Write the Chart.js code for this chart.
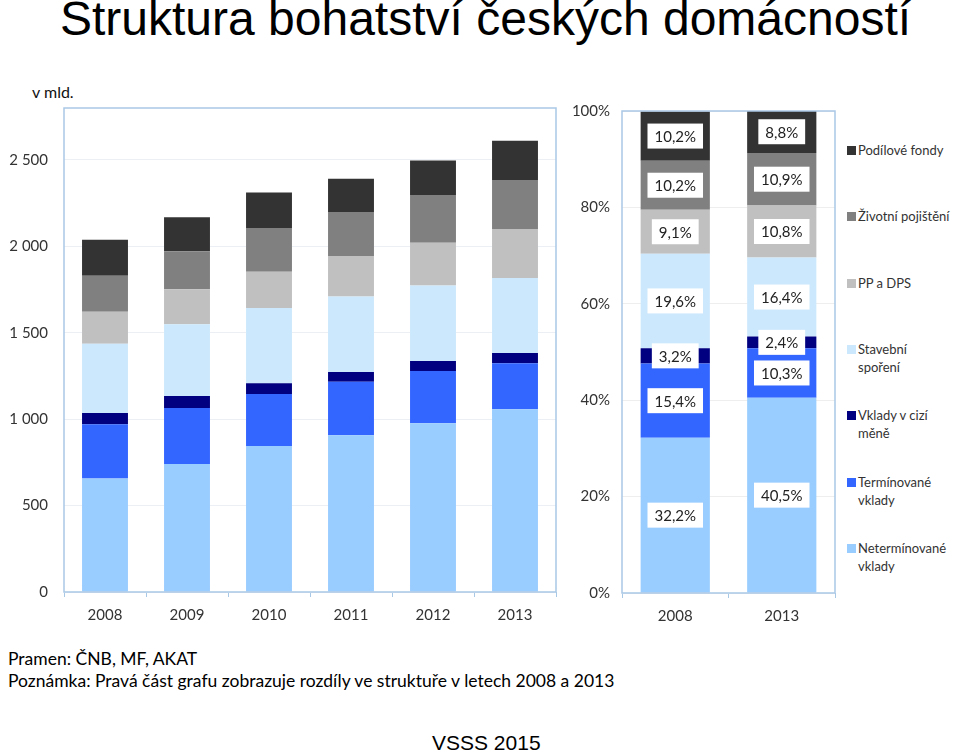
<!DOCTYPE html>
<html lang="cs">
<head>
<meta charset="UTF-8">
<title>Struktura bohatství českých domácností</title>
<script src="https://cdn.jsdelivr.net/npm/chart.js"></script>
<style>
  body { margin: 0; width: 959px; height: 752px; background: #fff; position: relative; overflow: hidden; }
  .abs { position: absolute; white-space: nowrap; }
  #titulek { left: 60px; top: -5px; font: 48px/48px "Liberation Sans", Arial, sans-serif; color: #000; }
  #jednotka { left: 32px; top: 82px; font: 16px/20px Lato, sans-serif; color: #111; }
  #pramen { left: 8px; top: 648px; font: 17.5px/22px Lato, sans-serif; color: #000; }
  #vsss { left: 432px; top: 732px; font: 21px/21px "Liberation Sans", Arial, sans-serif; color: #000; }
  #levy { left: 0; top: 80px; width: 560px; height: 550px; }
  #pravy { left: 560px; top: 90px; width: 280px; height: 540px; }
  .leg { position: absolute; left: 847px; font: 13px/18px Lato, sans-serif; color: #333; }
  .leg i { position: absolute; left: 0; top: 5px; width: 9px; height: 9px; }
  .leg span { display: block; margin-left: 11px; }
</style>
</head>
<body>
<div id="titulek" class="abs">Struktura bohatství českých domácností</div>
<div id="jednotka" class="abs">v mld.</div>
<div id="levy" class="abs"><canvas id="grafLevy"></canvas></div>
<div id="pravy" class="abs"><canvas id="grafPravy"></canvas></div>
<div id="legenda"></div>
<div id="pramen" class="abs">Pramen: ČNB, MF, AKAT<br>Poznámka: Pravá část grafu zobrazuje rozdíly ve struktuře v letech 2008 a 2013</div>
<div id="vsss" class="abs">VSSS 2015</div>

<script>
// roky a řady (zdola nahoru)
const roky = ['2008', '2009', '2010', '2011', '2012', '2013'];
const nazvy = ['Netermínované vklady', 'Termínované vklady', 'Vklady v cizí měně', 'Stavební spoření', 'PP a DPS', 'Životní pojištění', 'Podílové fondy'];
const legendaNazvy = ['Netermínované\nvklady', 'Termínované\nvklady', 'Vklady v cizí\nměně', 'Stavební\nspoření', 'PP a DPS', 'Životní pojištění', 'Podílové fondy'];
const barvy = ['#99ccff', '#3366ff', '#000080', '#cce8fc', '#c0c0c0', '#808080', '#333333'];

// v mld. Kč
const netermin = [657, 741, 845, 907, 976, 1057];
const termin = [314, 324, 301, 310, 303, 266];
const cizi = [65, 69, 62, 56, 58, 60];
const stavebni = [400, 415, 435, 436, 436, 434];
const ppDps = [186, 203, 209, 235, 247, 280];
const zivotni = [208, 219, 254, 255, 276, 287];
const podilove = [208, 197, 205, 191, 200, 226];

// struktura v % (pravá část)
const rokyStruktura = ['2008', '2013'];
const podil2008 = [32.2, 15.4, 3.2, 19.6, 9.1, 10.2, 10.2];
const podil2013 = [40.5, 10.3, 2.4, 16.4, 10.8, 10.9, 8.8];

const levaTicky = [0, 500, 1000, 1500, 2000, 2500];
const pravaTicky = [0, 20, 40, 60, 80, 100];

const hodnoty = [netermin, termin, cizi, stavebni, ppDps, zivotni, podilove];

// ramecek kolem plochy grafu
const ramecek = {
  id: 'ramecek',
  afterDraw(chart) {
    const a = chart.chartArea;
    const ctx = chart.ctx;
    ctx.save();
    ctx.strokeStyle = '#a9c8e6';
    ctx.lineWidth = 1.5;
    ctx.strokeRect(a.left, a.top, a.right - a.left, a.bottom - a.top);
    ctx.restore();
  }
};

// bile stitky s procenty
const stitky = {
  id: 'stitky',
  afterDatasetsDraw(chart) {
    const ctx = chart.ctx;
    ctx.save();
    ctx.font = '15px Lato, sans-serif';
    ctx.textAlign = 'center';
    ctx.textBaseline = 'middle';
    chart.data.datasets.forEach(function (ds, i) {
      chart.getDatasetMeta(i).data.forEach(function (el, j) {
        const text = ds.data[j].toFixed(1).replace('.', ',') + '%';
        const y = (el.y + el.base) / 2;
        const w = ctx.measureText(text).width + 14;
        ctx.fillStyle = '#ffffff';
        ctx.fillRect(el.x - w / 2, y - 12.5, w, 25);
        ctx.fillStyle = '#222';
        ctx.fillText(text, el.x, y + 1);
      });
    });
    ctx.restore();
  }
};

const fontOs = { family: 'Lato, sans-serif', size: 15 };

new Chart(document.getElementById('grafLevy'), {
  type: 'bar',
  data: {
    labels: roky,
    datasets: nazvy.map(function (n, i) {
      return { label: n, data: hodnoty[i], backgroundColor: barvy[i], barPercentage: 0.56, categoryPercentage: 1 };
    })
  },
  options: {
    responsive: true,
    maintainAspectRatio: false,
    animation: false,
    layout: { padding: { top: 28, right: 4, left: 0, bottom: 0 } },
    plugins: { legend: { display: false }, tooltip: { enabled: false } },
    scales: {
      x: {
        stacked: true,
        afterFit: function (s) { s.height = 38; },
        border: { display: false },
        grid: { drawOnChartArea: false, drawTicks: true, tickLength: 5, color: '#a9c8e6' },
        ticks: { color: '#333', font: fontOs, padding: 9 }
      },
      y: {
        stacked: true,
        min: 0,
        max: 2800,
        afterFit: function (s) { s.width = 64; },
        afterBuildTicks: function (s) { s.ticks = levaTicky.map(function (v) { return { value: v }; }); },
        border: { display: false },
        grid: { color: '#eceff3', drawTicks: false },
        ticks: {
          color: '#333', font: fontOs, padding: 16,
          callback: function (v) { return String(v).replace(/\B(?=(\d{3})+(?!\d))/g, ' '); }
        }
      }
    }
  },
  plugins: [ramecek]
});

new Chart(document.getElementById('grafPravy'), {
  type: 'bar',
  data: {
    labels: rokyStruktura,
    datasets: nazvy.map(function (n, i) {
      return { label: n, data: [podil2008[i], podil2013[i]], backgroundColor: barvy[i], barPercentage: 0.65, categoryPercentage: 1 };
    })
  },
  options: {
    responsive: true,
    maintainAspectRatio: false,
    animation: false,
    layout: { padding: { top: 19, right: 5, left: 0, bottom: 0 } },
    plugins: { legend: { display: false }, tooltip: { enabled: false } },
    scales: {
      x: {
        stacked: true,
        afterFit: function (s) { s.height = 37; },
        border: { display: false },
        grid: { drawOnChartArea: false, drawTicks: true, tickLength: 5, color: '#a9c8e6' },
        ticks: { color: '#333', font: fontOs, padding: 9 }
      },
      y: {
        stacked: true,
        min: 0,
        max: 100,
        afterFit: function (s) { s.width = 62; },
        afterBuildTicks: function (s) { s.ticks = pravaTicky.map(function (v) { return { value: v }; }); },
        border: { display: false },
        grid: { color: '#eeeeee', drawTicks: false },
        ticks: { color: '#333', font: fontOs, padding: 12, callback: function (v) { return v + '%'; } }
      }
    }
  },
  plugins: [ramecek, stitky]
});

// legenda vpravo, nahore Podilove fondy
const legenda = document.getElementById('legenda');
for (let k = 0; k < nazvy.length; k++) {
  const i = nazvy.length - 1 - k;
  const d = document.createElement('div');
  d.className = 'leg';
  d.style.top = (141 + k * 66.3) + 'px';
  d.innerHTML = '<i style="background:' + barvy[i] + '"></i><span>' + legendaNazvy[i].replace('\n', '<br>') + '</span>';
  legenda.appendChild(d);
}
</script>
</body>
</html>
